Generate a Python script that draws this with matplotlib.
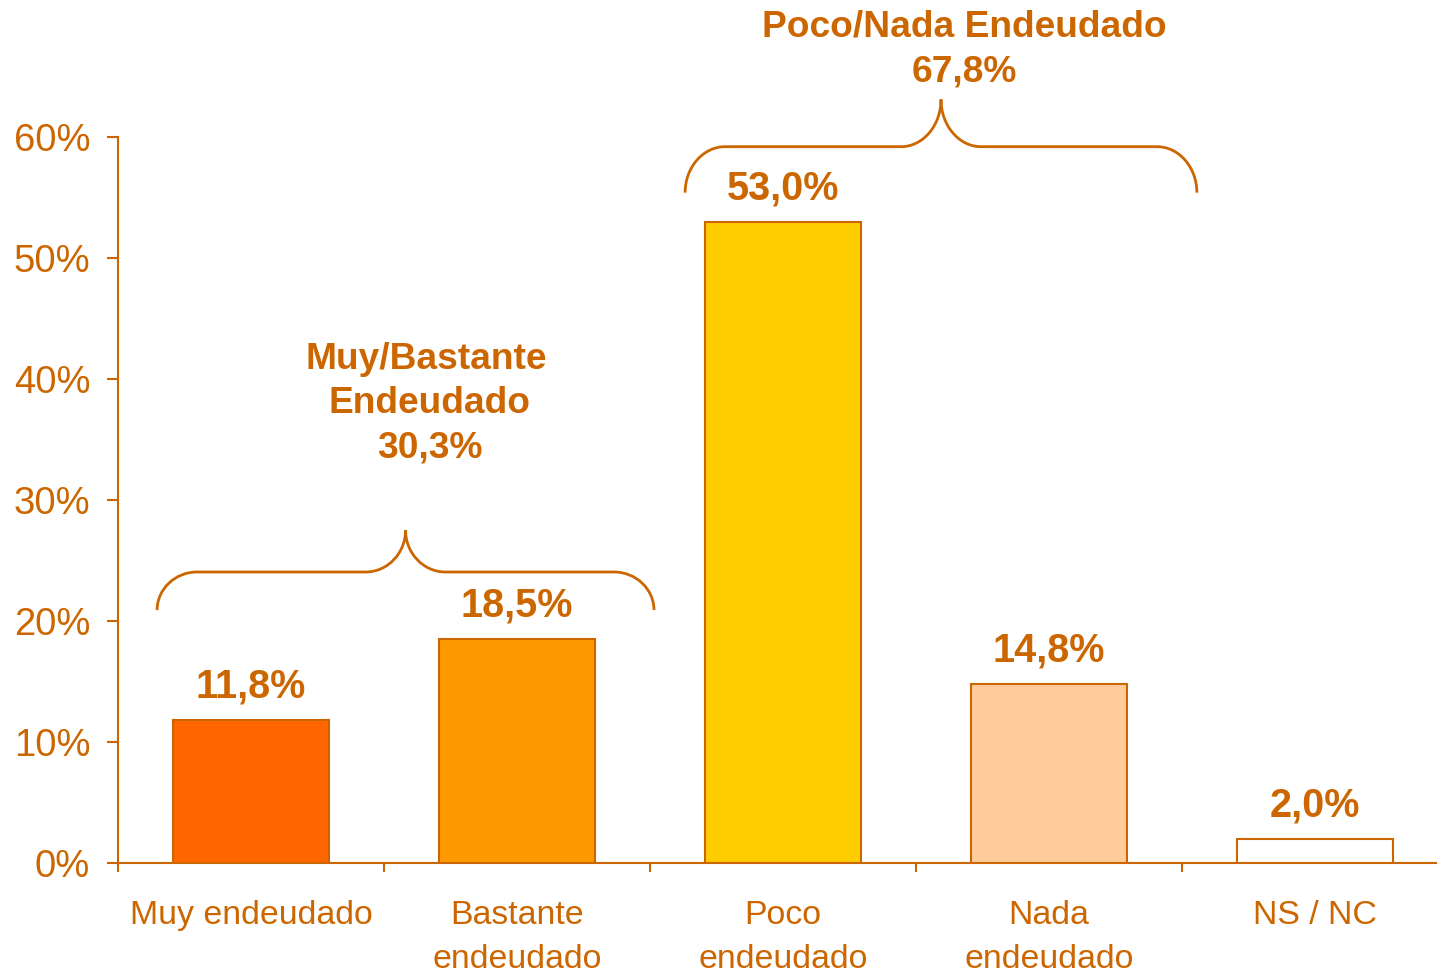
import matplotlib
matplotlib.use("Agg")
import matplotlib.pyplot as plt
import numpy as np
from matplotlib.path import Path
from matplotlib.patches import PathPatch

plt.rcParams['font.family'] = ['Liberation Sans', 'DejaVu Sans']

categories = ["Muy endeudado", "Bastante\nendeudado", "Poco\nendeudado", "Nada\nendeudado", "NS / NC"]
values = [11.8, 18.5, 53.0, 14.8, 2.0]
value_labels = ["11,8%", "18,5%", "53,0%", "14,8%", "2,0%"]
bar_colors = ["#FF6600", "#FF9900", "#FFCC00", "#FFCC99", "#FFFFFF"]
yticks = [0, 10, 20, 30, 40, 50, 60]
ytick_labels = ["0%", "10%", "20%", "30%", "40%", "50%", "60%"]
group1_lines = ["Muy/Bastante", "Endeudado", "30,3%"]
group2_lines = ["Poco/Nada Endeudado", "67,8%"]

C = "#CC6600"
W, H = 1437, 975
fig = plt.figure(figsize=(W / 100, H / 100), dpi=100)
ax = fig.add_axes([118 / W, 112 / H, (1448 - 118) / W, (863 - 137) / H])

x = np.arange(len(categories))
ax.bar(x, values, width=0.59, color=bar_colors, edgecolor=C, linewidth=1.5, zorder=3)
ax.set_xlim(-0.5, 4.5)
ax.set_ylim(0, 60)

for s in ["top", "right"]:
    ax.spines[s].set_visible(False)
for s in ["left", "bottom"]:
    ax.spines[s].set_color(C)
    ax.spines[s].set_linewidth(1.5)

ax.set_yticks(yticks)
ax.set_yticklabels(ytick_labels, fontsize=27.5, color=C)
ax.tick_params(axis='y', length=8, width=1.5, color=C, pad=12)

ax.set_xticks(x)
ax.set_xticklabels(categories, fontsize=24.4, color=C, linespacing=1.55, va='top')
ax.tick_params(axis='x', which='major', length=0, pad=26.5)
ax.set_xticks(np.arange(-0.5, 4.6, 1), minor=True)
ax.tick_params(axis='x', which='minor', length=6.5, width=1.5, color=C, direction='out')

for xi, v, lab in zip(x, values, value_labels):
    ax.annotate(lab, (xi, v), xytext=(0, 16), textcoords='offset points',
                ha='center', va='baseline', fontsize=28.5, fontweight='bold', color=C)


def brace(ax, x0, x1, xm, yend, yflat, ytip, rx):
    k = 0.55
    verts = [
        (x0, yend),
        (x0, yend + k * (yflat - yend)), (x0 + rx * (1 - k), yflat), (x0 + rx, yflat),
        (xm - rx, yflat),
        (xm - rx * (1 - k), yflat), (xm, ytip - k * (ytip - yflat)), (xm, ytip),
        (xm, ytip - k * (ytip - yflat)), (xm + rx * (1 - k), yflat), (xm + rx, yflat),
        (x1 - rx, yflat),
        (x1 - rx * (1 - k), yflat), (x1, yend + k * (yflat - yend)), (x1, yend),
    ]
    codes = [Path.MOVETO,
             Path.CURVE4, Path.CURVE4, Path.CURVE4,
             Path.LINETO,
             Path.CURVE4, Path.CURVE4, Path.CURVE4,
             Path.CURVE4, Path.CURVE4, Path.CURVE4,
             Path.LINETO,
             Path.CURVE4, Path.CURVE4, Path.CURVE4]
    p = PathPatch(Path(verts, codes), fill=False, edgecolor=C, linewidth=2, clip_on=False, zorder=4)
    ax.add_patch(p)


brace(ax, -0.353, 1.515, 0.581, 20.9, 24.05, 27.5, 0.15)
brace(ax, 1.632, 3.556, 2.594, 55.4, 59.2, 63.1, 0.15)

g1_x = [0.658, 0.672, 0.672]
for i, line in enumerate(group1_lines):
    ax.annotate(line, (g1_x[i], 40.8), xytext=(0, -31.7 * i), textcoords='offset points',
                ha='center', va='baseline', fontsize=26.7, fontweight='bold', color=C,
                annotation_clip=False)
for i, line in enumerate(group2_lines):
    ax.annotate(line, (2.68, 68.3), xytext=(0, -32.4 * i), textcoords='offset points',
                ha='center', va='baseline', fontsize=26.7, fontweight='bold', color=C,
                annotation_clip=False)

fig.savefig("out.png", dpi=100)
